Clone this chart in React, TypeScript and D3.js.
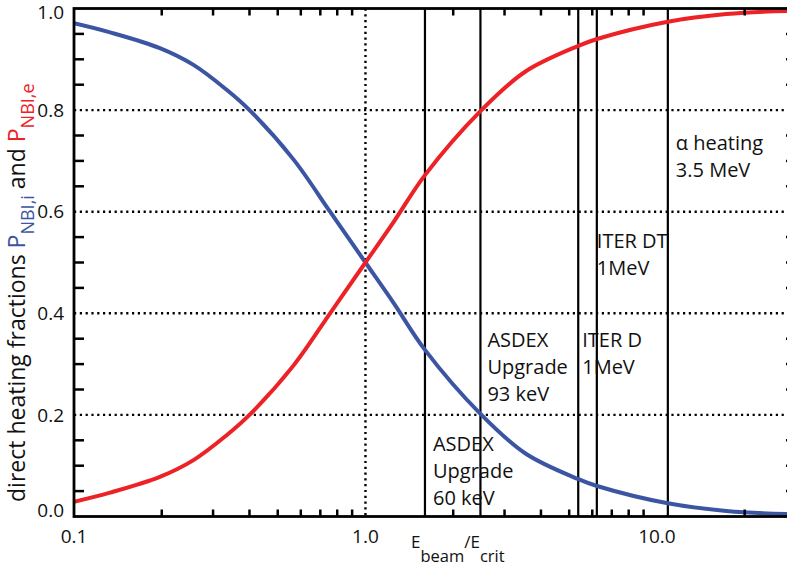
import React from 'react';
import * as d3 from 'd3';

// values
const energyRatio = [0.1, 0.133, 0.197, 0.257, 0.334, 0.4, 0.566, 0.756, 1.0, 1.25, 1.6, 2.48, 3.54, 5.35, 6.23, 10.9, 17.3, 27.8, 30];
const ionFraction = [0.971, 0.953, 0.922, 0.889, 0.84, 0.8, 0.703, 0.6, 0.5, 0.42, 0.328, 0.202, 0.124, 0.074, 0.06, 0.026, 0.011, 0.005, 0.005];
const electronFraction = [0.029, 0.047, 0.078, 0.111, 0.16, 0.2, 0.297, 0.4, 0.5, 0.58, 0.672, 0.798, 0.876, 0.926, 0.94, 0.974, 0.989, 0.995, 0.995];

const beamEnergies = [1.6, 2.48, 5.37, 6.22, 10.9];
const beamLabels = [
  ['ASDEX', 'Upgrade', '60 keV'],
  ['ASDEX', 'Upgrade', '93 keV'],
  ['ITER D', '1MeV'],
  ['ITER DT', '1MeV'],
  ['\u03b1 heating', '3.5 MeV'],
];

const yTicks = [0, 0.2, 0.4, 0.6, 0.8, 1.0];
const yTickLabels = ['0.0', '0.2', '0.4', '0.6', '0.8', '1.0'];
const yMinorTicks = [0.05, 0.1, 0.15, 0.25, 0.3, 0.35, 0.45, 0.5, 0.55, 0.65, 0.7, 0.75, 0.85, 0.9, 0.95];
const xTicks = [0.1, 1, 10];
const xTickLabels = ['0.1', '1.0', '10.0'];
const xMinorTicks = [0.2, 0.3, 0.4, 0.5, 0.6, 0.7, 0.8, 0.9, 2, 3, 4, 5, 6, 7, 8, 9, 20];

// layout only
const labelPlace = [
  { dx: 8, y: 0.128 },
  { dx: 7, y: 0.334 },
  { dx: 4, y: 0.334 },
  { dx: 0, y: 0.528 },
  { dx: 8, y: 0.722 },
];

const W = 787, H = 567;
const L = 74, R = 796, T = 8.5, B = 516.5;
const FONT = '"Open Sans", "DejaVu Sans", sans-serif';
const BLUE = '#3b55a3';
const RED = '#ec2227';

export default function App() {
  const x = d3.scaleLog().domain([0.1, 30]).range([L, R]);
  const y = d3.scaleLinear().domain([0, 1]).range([B, T]);

  const line = d3.line<number>()
    .x((_, i) => x(energyRatio[i]))
    .y(d => y(d))
    .curve(d3.curveCatmullRom.alpha(0.5));

  return (
    <div style={{ position: 'fixed', left: 0, top: 0 }}>
      <svg width={W} height={H} style={{ display: 'block', background: '#fff' }}>
        <defs>
          <clipPath id="plotArea">
            <rect x={L} y={T} width={R - L} height={B - T} />
          </clipPath>
        </defs>

        {/* dotted grid */}
        {[0.2, 0.4, 0.6, 0.8].map(v => (
          <line key={'g' + v} x1={L} x2={R} y1={y(v)} y2={y(v)} stroke="#000" strokeWidth={2.4} strokeDasharray="2.2,3.6" />
        ))}
        <line x1={x(1)} x2={x(1)} y1={T} y2={B} stroke="#000" strokeWidth={2.4} strokeDasharray="2.2,3.6" />

        {/* beam energy markers */}
        {beamEnergies.map(e => (
          <line key={'b' + e} x1={x(e)} x2={x(e)} y1={T} y2={B} stroke="#000" strokeWidth={2.2} />
        ))}

        <g clipPath="url(#plotArea)">
          <path d={line(ionFraction) || ''} fill="none" stroke={BLUE} strokeWidth={4} />
          <path d={line(electronFraction) || ''} fill="none" stroke={RED} strokeWidth={4} />
        </g>

        {/* frame */}
        <rect x={L} y={T} width={R - L} height={B - T} fill="none" stroke="#000" strokeWidth={2.8} />

        {/* minor ticks, pointing inward */}
        {yMinorTicks.map(v => (
          <line key={'yl' + v} x1={L} x2={L + 10} y1={y(v)} y2={y(v)} stroke="#000" strokeWidth={2.5} />
        ))}
        {yMinorTicks.map(v => (
          <line key={'yr' + v} x1={R} x2={R - 10} y1={y(v)} y2={y(v)} stroke="#000" strokeWidth={2.5} />
        ))}
        {xMinorTicks.map(v => (
          <line key={'xb' + v} x1={x(v)} x2={x(v)} y1={B} y2={B - 7} stroke="#000" strokeWidth={2.5} />
        ))}
        {xMinorTicks.map(v => (
          <line key={'xt' + v} x1={x(v)} x2={x(v)} y1={T} y2={T + 7} stroke="#000" strokeWidth={2.5} />
        ))}

        <g fontFamily={FONT} fill="#111">
          {/* marker labels */}
          {beamLabels.map((lines, i) => (
            <text key={'l' + i} x={x(beamEnergies[i]) + labelPlace[i].dx} y={y(labelPlace[i].y)} fontSize={20}>
              {lines.map((s, j) => (
                <tspan key={j} x={x(beamEnergies[i]) + labelPlace[i].dx} dy={j === 0 ? 0 : 27}>{s}</tspan>
              ))}
            </text>
          ))}

          {/* tick labels */}
          {yTicks.map((v, i) => (
            <text key={'ylab' + v} x={64} y={Math.min(Math.max(y(v), 12.5), 510)} dy="0.35em" textAnchor="end" fontSize={19}>
              {yTickLabels[i]}
            </text>
          ))}
          {xTicks.map((v, i) => (
            <text key={'xlab' + v} x={x(v)} y={543} textAnchor="middle" fontSize={19}>
              {xTickLabels[i]}
            </text>
          ))}

          {/* axis titles */}
          <text x={411} y={548} fontSize={17}>
            E<tspan fontSize={16.5} dy={14}>beam</tspan>
            <tspan dy={-14}>/E</tspan>
            <tspan fontSize={16.5} dy={14}>crit</tspan>
          </text>
          <text transform="translate(25,502) rotate(-90)" fontSize={23}>
            direct heating fractions <tspan fill={BLUE}>P</tspan>
            <tspan fill={BLUE} fontSize={18} dy={9}>NBI,i</tspan>
            <tspan dy={-9}> and </tspan>
            <tspan fill={RED}>P</tspan>
            <tspan fill={RED} fontSize={18} dy={9}>NBI,e</tspan>
          </text>
        </g>
      </svg>
    </div>
  );
}
